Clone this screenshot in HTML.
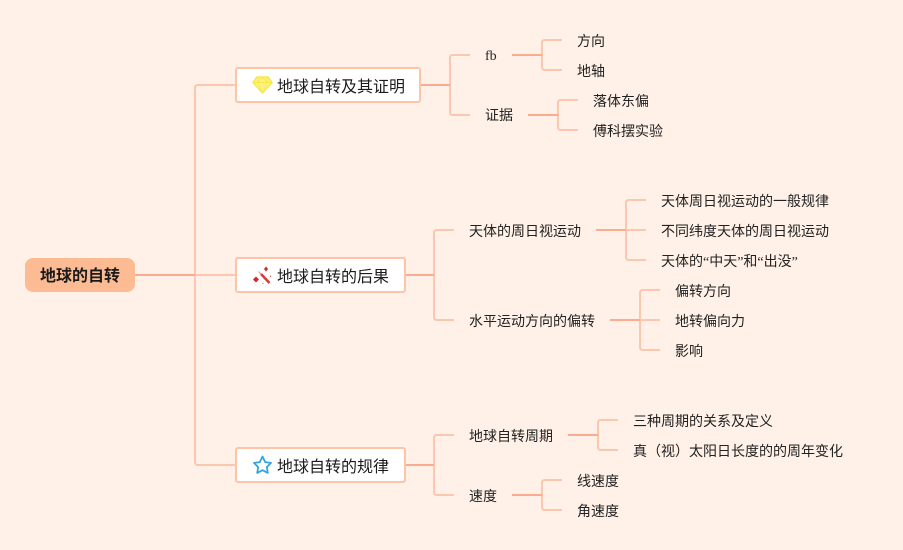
<!DOCTYPE html>
<html><head><meta charset="utf-8">
<style>
html,body{margin:0;padding:0;width:903px;height:550px;overflow:hidden;background:#fff1e7}
body{position:relative;font-family:"Liberation Serif","Noto Sans CJK SC",sans-serif;color:#222}
svg{position:absolute;left:0;top:0}
.t{position:absolute;white-space:nowrap;font-size:14px;line-height:20px;height:20px;margin-top:2px;font-family:"Liberation Serif","Noto Sans CJK SC",sans-serif;color:#222}
.box{position:absolute;box-sizing:border-box;background:#fff;border:2px solid #fdc4a8;border-radius:3px;height:36px}
.l1{position:absolute;white-space:nowrap;font-size:16px;line-height:22px;margin-top:2px;left:277px;color:#1c1c1c;font-family:"Liberation Sans","Noto Sans CJK SC",sans-serif}
.root{position:absolute;left:25px;top:258px;width:110px;height:32px;padding-top:2px;border-radius:8px;background:#fdbb93;text-align:center;font:bold 16px/34px "Liberation Sans","Noto Sans CJK SC",sans-serif;color:#1a1a1a}
</style></head><body>
<svg width="903" height="550" viewBox="0 0 903 550" fill="none">
<g stroke="#fdc6ae" stroke-width="2">
<path d="M235 85H198Q195 85 195 88V462Q195 465 198 465H235"/>
<path d="M470 55H453Q450 55 450 58V112Q450 115 453 115H470"/>
<path d="M562 40H545Q542 40 542 43V67Q542 70 545 70H562"/>
<path d="M578 100H561Q558 100 558 103V127Q558 130 561 130H578"/>
<path d="M454 230H437Q434 230 434 233V317Q434 320 437 320H454"/>
<path d="M646 200H629Q626 200 626 203V257Q626 260 629 260H646M626 230H646"/>
<path d="M660 290H643Q640 290 640 293V347Q640 350 643 350H660M640 320H660"/>
<path d="M454 435H437Q434 435 434 438V492Q434 495 437 495H454"/>
<path d="M618 420H601Q598 420 598 423V447Q598 450 601 450H618"/>
<path d="M562 480H545Q542 480 542 483V507Q542 510 545 510H562"/>
<path d="M195 275H235"/>
</g>
<g stroke="#fbab90" stroke-width="2">
<path d="M135 275H195"/>
<path d="M420 85H450"/>
<path d="M512 55H542"/>
<path d="M528 115H558"/>
<path d="M405 275H434"/>
<path d="M596 230H626"/>
<path d="M610 320H640"/>
<path d="M405 465H434"/>
<path d="M568 435H598"/>
<path d="M512 495H542"/>
</g>
</svg>

<div class="root">地球的自转</div>

<div class="box" style="left:235px;top:67px;width:186px"></div>
<div class="box" style="left:235px;top:257px;width:171px"></div>
<div class="box" style="left:235px;top:447px;width:171px"></div>

<svg width="903" height="550" viewBox="0 0 903 550" fill="none" style="z-index:2">
<g>
<path d="M257 77H268L272 82.500L262.500 93L253 82.500Z" fill="#fdf28a" stroke="#f7e94a" stroke-width="1.500" stroke-linejoin="round"/>
<path d="M253.500 82.500H271.500M258.500 77.500L257.500 82.500L262.500 92.500L267.500 82.500L266.500 77.500M262.500 77.500L257.500 82.500M262.500 77.500L267.500 82.500" stroke="#f7e94a" stroke-width="0.900"/>
</g>
<g>
<path d="M261 274L269.500 283" stroke="#d93a3a" stroke-width="2.600"/>
<path d="M258.500 271.500L261 274" stroke="#e88" stroke-width="1"/>
<path d="M266 266.500L268 269L266 271.500L264 269Z" fill="#cc2b2b"/>
<path d="M256 276.500L259 279.500L256 282.500L253 279.500Z" fill="#cc2b2b"/>
<path d="M270.500 275.500V277M263 283V284" stroke="#d66" stroke-width="1"/>
</g>
<path d="M262.500 456.500L265.200 462.100L271 462.900L266.800 467.100L267.800 472.900L262.500 470.200L257.200 472.900L258.200 467.100L254 462.900L259.800 462.100Z" stroke="#35a3e0" stroke-width="1.800" stroke-linejoin="round"/>
</svg>

<div class="l1" style="top:75px;z-index:3">地球自转及其证明</div>
<div class="l1" style="top:265px;z-index:3">地球自转的后果</div>
<div class="l1" style="top:455px;z-index:3">地球自转的规律</div>

<div class="t" style="left:485px;top:45px">fb</div>
<div class="t" style="left:485px;top:105px">证据</div>
<div class="t" style="left:577px;top:31px">方向</div>
<div class="t" style="left:577px;top:61px">地轴</div>
<div class="t" style="left:593px;top:91px">落体东偏</div>
<div class="t" style="left:593px;top:121px">傅科摆实验</div>

<div class="t" style="left:469px;top:221px">天体的周日视运动</div>
<div class="t" style="left:469px;top:311px">水平运动方向的偏转</div>
<div class="t" style="left:661px;top:191px">天体周日视运动的一般规律</div>
<div class="t" style="left:661px;top:221px">不同纬度天体的周日视运动</div>
<div class="t" style="left:661px;top:251px">天体的“中天”和“出没”</div>
<div class="t" style="left:675px;top:281px">偏转方向</div>
<div class="t" style="left:675px;top:311px">地转偏向力</div>
<div class="t" style="left:675px;top:341px">影响</div>

<div class="t" style="left:469px;top:426px">地球自转周期</div>
<div class="t" style="left:469px;top:486px">速度</div>
<div class="t" style="left:633px;top:411px">三种周期的关系及定义</div>
<div class="t" style="left:633px;top:441px">真（视）太阳日长度的的周年变化</div>
<div class="t" style="left:577px;top:471px">线速度</div>
<div class="t" style="left:577px;top:501px">角速度</div>
</body></html>
